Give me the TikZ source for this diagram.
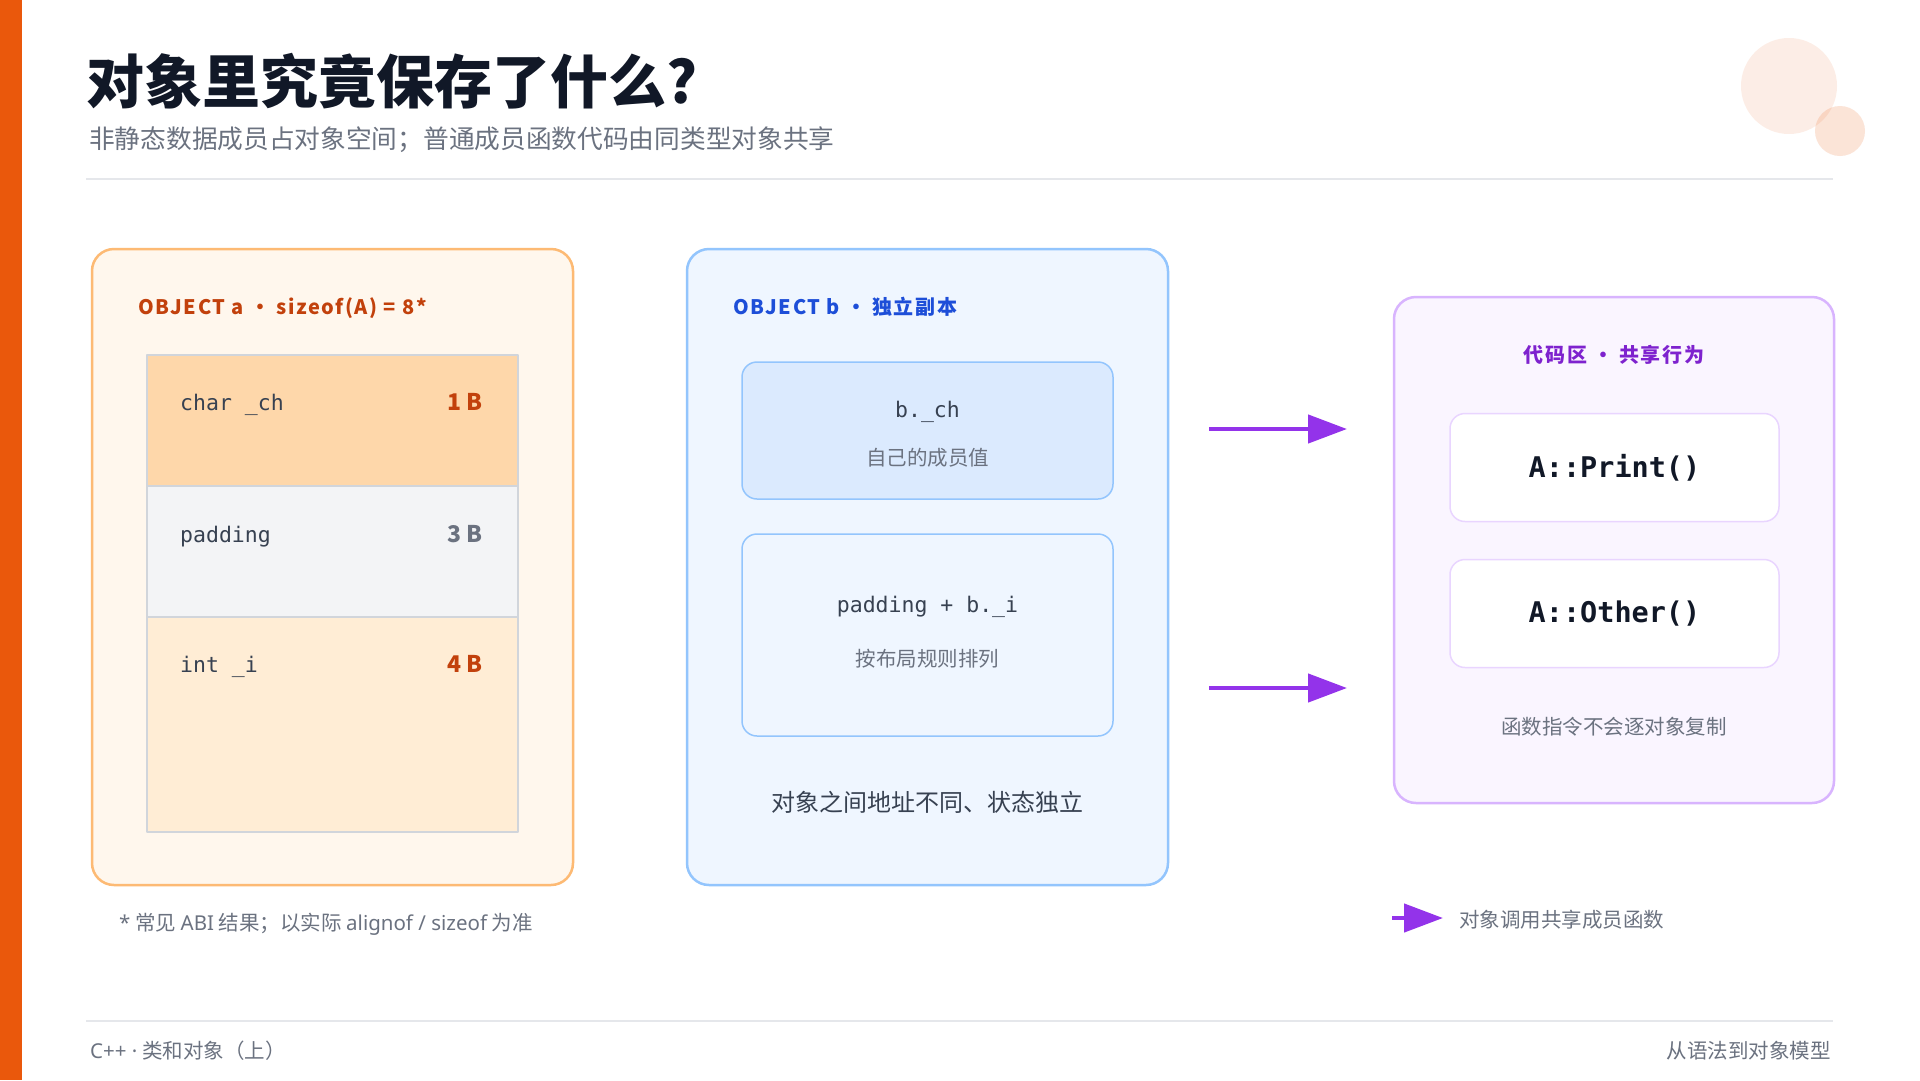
\documentclass[tikz,border=0pt]{standalone}
\usepackage{fontspec}
\setmainfont{Noto Sans CJK SC}
\setmonofont{DejaVu Sans Mono}
\newfontfamily\labelfont[LetterSpace=8]{Noto Sans CJK SC}
\newfontfamily\latinfont{Noto Sans}
\usetikzlibrary{positioning,arrows.meta}
\definecolor{accent}{HTML}{EA580C}
\definecolor{ink}{HTML}{111827}
\definecolor{body}{HTML}{374151}
\definecolor{muted}{HTML}{6B7280}
\definecolor{ruleline}{HTML}{E5E7EB}
\definecolor{objafill}{HTML}{FFF7ED}
\definecolor{objaline}{HTML}{FDBA74}
\definecolor{objaink}{HTML}{C2410C}
\definecolor{cellch}{HTML}{FED7AA}
\definecolor{cellpad}{HTML}{F3F4F6}
\definecolor{cellint}{HTML}{FFEDD5}
\definecolor{cellline}{HTML}{D1D5DB}
\definecolor{objbfill}{HTML}{EFF6FF}
\definecolor{objbline}{HTML}{93C5FD}
\definecolor{objbink}{HTML}{1D4ED8}
\definecolor{cardfill}{HTML}{DBEAFE}
\definecolor{codefill}{HTML}{FAF5FF}
\definecolor{codeline}{HTML}{D8B4FE}
\definecolor{codeink}{HTML}{7E22CE}
\definecolor{fnline}{HTML}{E9D5FF}
\definecolor{callc}{HTML}{9333EA}
\newcommand\fsz[1]{\fontsize{#1pt}{#1pt}\selectfont}
\begin{document}
\begin{tikzpicture}[x=1pt,y=-1pt,line join=round,
  panel/.style={rounded corners=22pt,line width=2.5pt,inner sep=0pt,outer sep=0pt},
  cell/.style={draw=cellline,line width=1.5pt,minimum width=371pt,inner sep=0pt,outer sep=0pt},
  card/.style={rounded corners=15pt,line width=1.5pt,minimum width=371pt,inner sep=0pt,outer sep=0pt},
  fnbox/.style={rounded corners=15pt,draw=fnline,fill=white,line width=1.5pt,minimum width=329pt,minimum height=108pt,inner sep=0pt,outer sep=0pt,font=\ttfamily\bfseries\fsz{28.5},text=ink},
  memtxt/.style={font=\ttfamily\fsz{21.5},text=body,anchor=base west,inner sep=0pt},
  bytes/.style={font=\bfseries\fsz{23},anchor=base east,inner sep=0pt},
  note/.style={font=\fsz{20.5},text=muted,inner sep=0pt},
  head/.style={font=\labelfont\bfseries\fsz{20},inner sep=0pt},
  hrule/.style={draw=ruleline,line width=1.5pt},
  call/.style={draw=callc,line width=4.5pt,-{Triangle[length=39pt,width=28pt]}}]
\useasboundingbox (0,0) rectangle (1920,1080);
\fill[white] (0,0) rectangle (1920,1080);
\fill[accent] (0,0) rectangle (22,1080);
\fill[accent,opacity=.1] (1789,86) circle[radius=48pt];
\fill[accent,opacity=.16] (1840,131) circle[radius=25pt];
\node[font=\bfseries\fsz{58},text=ink,anchor=base west,inner sep=0pt] (title) at (86,103) {对象里究竟保存了什么?};
\node[font=\fsz{25.7},text=muted,anchor=base west,inner sep=0pt] (subtitle) at (89,148) {非静态数据成员占对象空间；普通成员函数代码由同类型对象共享};
\draw[hrule] (86,179) -- (1833,179);

\node[panel,draw=objaline,fill=objafill,minimum width=481pt,minimum height=636pt] (obja) at (332.5,567) {};
\node[head,text=objaink,anchor=base west] (objahead) at (138,314) {OBJECT a • sizeof(A) = 8*};
\node[cell,fill=cellch,minimum height=131pt] (cellch) at (332.5,420.5) {};
\node[cell,fill=cellpad,minimum height=131pt,below=0pt of cellch] (cellpad) {};
\node[cell,fill=cellint,minimum height=215pt,below=0pt of cellpad] (cellint) {};
\node[memtxt] (tch) at ([xshift=33pt,yshift=-55pt]cellch.north west) {char \_ch};
\node[bytes,text=objaink] (sch) at ([xshift=-35pt,yshift=-55pt]cellch.north east) {1 B};
\node[memtxt] (tpad) at ([xshift=33pt,yshift=-56pt]cellpad.north west) {padding};
\node[bytes,text=muted] (spad) at ([xshift=-35pt,yshift=-56pt]cellpad.north east) {3 B};
\node[memtxt] (tint) at ([xshift=33pt,yshift=-55pt]cellint.north west) {int \_i};
\node[bytes,text=objaink] (sint) at ([xshift=-35pt,yshift=-55pt]cellint.north east) {4 B};
\node[note,anchor=base west] (abinote) at (119,930) {{\latinfont *} 常见 {\latinfont ABI} 结果；以实际 {\latinfont alignof / sizeof} 为准};

\node[panel,draw=objbline,fill=objbfill,minimum width=481pt,minimum height=636pt] (objb) at (927.5,567) {};
\node[head,text=objbink,anchor=base west] (objbhead) at (733,314) {OBJECT b • 独立副本};
\node[card,draw=objbline,fill=cardfill,minimum height=137pt] (cardch) at (927.5,430.5) {};
\node[memtxt,anchor=base] (bch) at ([yshift=-55pt]cardch.north) {b.\_ch};
\node[note,anchor=base] (bchnote) at ([yshift=-103pt]cardch.north) {自己的成员值};
\node[card,draw=objbline,fill=objbfill,minimum height=202pt,below=35pt of cardch] (cardi) {};
\node[memtxt,anchor=base] (bi) at ([yshift=-78pt]cardi.north) {padding + b.\_i};
\node[note,anchor=base] (binote) at ([yshift=-132pt]cardi.north) {按布局规则排列};
\node[font=\fsz{24},text=body,anchor=base,inner sep=0pt] (objbnote) at (927.5,811) {对象之间地址不同、状态独立};

\node[panel,draw=codeline,fill=codefill,minimum width=440pt,minimum height=506pt] (code) at (1614,550) {};
\node[head,text=codeink,anchor=base] (codehead) at (1614,362) {代码区 • 共享行为};
\node[fnbox] (fprint) at (1614.5,467.5) {A::Print()};
\node[fnbox,below=38pt of fprint] (fother) {A::Other()};
\node[note,anchor=base] (codenote) at (1614,734) {函数指令不会逐对象复制};

\coordinate (call1a) at (1209,429);
\coordinate (call1b) at (1347,429);
\coordinate (call2a) at (1209,688);
\coordinate (call2b) at (1347,688);
\draw[call] (call1a) -- (call1b);
\draw[call] (call2a) -- (call2b);

\coordinate (keya) at (1392,918);
\coordinate (keyb) at (1443,918);
\draw[call] (keya) -- (keyb);
\node[note,anchor=base west] (keytxt) at (1459,927) {对象调用共享成员函数};

\draw[hrule] (86,1021) -- (1833,1021);
\node[note,anchor=base west] (footl) at (90,1058) {{\latinfont C++ ·} 类和对象（上）};
\node[note,anchor=base east] (footr) at (1831,1058) {从语法到对象模型};
\end{tikzpicture}
\end{document}
